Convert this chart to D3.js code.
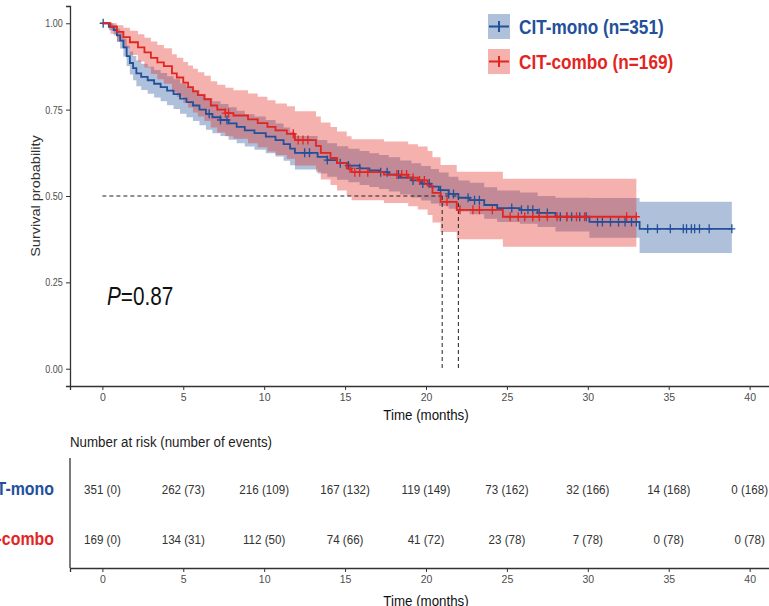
<!DOCTYPE html>
<html>
<head>
<meta charset="utf-8">
<script src="https://cdn.jsdelivr.net/npm/d3@7"></script>
<style>
  body { margin: 0; background: #fff; }
  svg { display: block; font-family: 'Liberation Sans', Arial, sans-serif; }
</style>
</head>
<body>
<div id="chart"></div>
<script>
// ---- data ----
const xTicks = [0, 5, 10, 15, 20, 25, 30, 35, 40]
const yTicks = [0, 0.25, 0.5, 0.75, 1]

const monoTime = [0, 0.4, 0.7, 0.9, 1.1, 1.3, 1.5, 1.7, 1.9, 2.1, 2.4, 2.8, 3.2, 3.6, 4.0, 4.4, 4.8, 5.2, 5.6, 6.0,
  6.4, 6.8, 7.3, 7.8, 8.3, 8.8, 9.4, 10.1, 10.7, 11.2, 11.6, 11.9, 13.3, 13.9, 14.5, 15.2, 15.9, 16.5, 17.1, 17.7,
  18.4, 19.1, 19.7, 20.3, 20.8, 21.4, 22.0, 22.7, 23.6, 24.4, 25.8, 26.9, 28.0, 30.1, 33.2]
const monoSurv = [1, 0.99, 0.98, 0.965, 0.95, 0.93, 0.905, 0.885, 0.87, 0.855, 0.845, 0.835, 0.825, 0.815, 0.805, 0.795, 0.782, 0.772, 0.762, 0.75,
  0.738, 0.728, 0.72, 0.71, 0.70, 0.69, 0.682, 0.672, 0.662, 0.65, 0.637, 0.625, 0.613, 0.604, 0.595, 0.588, 0.58, 0.574, 0.569, 0.562,
  0.553, 0.545, 0.536, 0.527, 0.517, 0.506, 0.495, 0.488, 0.474, 0.465, 0.46, 0.451, 0.44, 0.425, 0.405]
const monoLower = [1, 0.98, 0.965, 0.946, 0.927, 0.904, 0.876, 0.852, 0.835, 0.818, 0.807, 0.796, 0.785, 0.774, 0.763, 0.752, 0.738, 0.728, 0.717, 0.705,
  0.692, 0.682, 0.674, 0.663, 0.653, 0.643, 0.634, 0.624, 0.614, 0.602, 0.589, 0.577, 0.565, 0.556, 0.547, 0.54, 0.532, 0.526, 0.52, 0.513,
  0.504, 0.496, 0.487, 0.478, 0.472, 0.463, 0.455, 0.447, 0.434, 0.425, 0.42, 0.41, 0.397, 0.379, 0.335]
const monoUpper = [1, 1, 0.995, 0.984, 0.973, 0.956, 0.935, 0.918, 0.905, 0.892, 0.883, 0.874, 0.865, 0.856, 0.847, 0.838, 0.826, 0.816, 0.807, 0.795,
  0.784, 0.774, 0.766, 0.757, 0.747, 0.737, 0.73, 0.72, 0.71, 0.698, 0.686, 0.674, 0.662, 0.653, 0.644, 0.637, 0.63, 0.624, 0.619, 0.612,
  0.603, 0.595, 0.587, 0.578, 0.568, 0.556, 0.545, 0.538, 0.525, 0.516, 0.51, 0.5, 0.495, 0.494, 0.483]
const monoEnd = 38.9
const monoCensor = [0.05, 6.6, 7.3, 7.7, 12.5, 12.8, 13.9, 14.7, 15.2, 15.9, 17.2, 17.6, 18.3, 19.2, 19.8, 20.2, 20.9, 21.4, 21.7,
  22.6, 23.0, 23.3, 25.3, 25.9, 26.3, 26.6, 27.0, 27.5, 28.3, 28.7, 29.0, 29.5, 29.9, 30.6, 30.9, 31.4, 31.9, 32.3, 32.7, 33.0,
  33.7, 34.3, 35.1, 35.9, 36.1, 36.4, 36.6, 36.9, 37.5, 38.9]

const comboTime = [0, 0.5, 0.9, 1.3, 1.7, 2.2, 2.6, 3.0, 3.4, 3.8, 4.3, 4.6, 5.0, 5.3, 5.6, 5.9, 6.3, 6.7, 7.1, 7.6,
  8.1, 9.0, 9.6, 10.2, 10.7, 11.4, 11.9, 13.2, 13.5, 14.1, 14.5, 15.1, 15.4, 17.4, 18.9, 19.5, 20.1, 20.4, 20.9, 21.9, 24.75]
const comboSurv = [1, 0.99, 0.975, 0.96, 0.945, 0.93, 0.916, 0.9, 0.887, 0.876, 0.855, 0.843, 0.828, 0.815, 0.803, 0.792, 0.78, 0.762, 0.75, 0.74,
  0.733, 0.722, 0.711, 0.70, 0.69, 0.68, 0.662, 0.645, 0.625, 0.61, 0.595, 0.58, 0.569, 0.562, 0.553, 0.545, 0.53, 0.509, 0.483, 0.46, 0.44]
const comboLower = [1, 0.97, 0.948, 0.928, 0.908, 0.889, 0.872, 0.853, 0.838, 0.825, 0.8, 0.787, 0.77, 0.756, 0.742, 0.73, 0.717, 0.698, 0.684, 0.673,
  0.666, 0.653, 0.641, 0.629, 0.619, 0.608, 0.588, 0.57, 0.548, 0.532, 0.516, 0.5, 0.488, 0.48, 0.47, 0.461, 0.445, 0.423, 0.396, 0.375, 0.353]
const comboUpper = [1, 1, 0.994, 0.987, 0.978, 0.968, 0.958, 0.947, 0.937, 0.928, 0.91, 0.9, 0.888, 0.878, 0.868, 0.858, 0.848, 0.832, 0.822, 0.813,
  0.806, 0.797, 0.787, 0.777, 0.768, 0.76, 0.745, 0.73, 0.713, 0.70, 0.687, 0.673, 0.664, 0.658, 0.65, 0.643, 0.63, 0.612, 0.59, 0.57, 0.55]
const comboEnd = 33.0
const comboCensor = [7.6, 7.8, 11.8, 12.1, 12.4, 12.7, 15.3, 15.6, 15.9, 16.4, 18.2, 18.5, 18.8, 19.2, 19.6, 19.9, 21.3,
  22.1, 22.9, 23.3, 24.1, 25.2, 25.7, 26.1, 26.6, 27.0, 27.5, 28.1, 28.7, 29.3, 29.8, 32.4, 33.0]

const medians = [21, 22]
const pValue = '0.87'

const riskTimes = [0, 5, 10, 15, 20, 25, 30, 35, 40]
const monoAtRisk = [351, 262, 216, 167, 119, 73, 32, 14, 0]
const monoEvents = [0, 73, 109, 132, 149, 162, 166, 168, 168]
const comboAtRisk = [169, 134, 112, 74, 41, 23, 7, 0, 0]
const comboEvents = [0, 31, 50, 66, 72, 78, 78, 78, 78]

const groups = [
  { name: 'CIT-mono', n: 351, color: '#22509a', fill: 'rgba(34,80,154,0.36)', time: monoTime, surv: monoSurv,
    lower: monoLower, upper: monoUpper, end: monoEnd, censor: monoCensor, atRisk: monoAtRisk, events: monoEvents },
  { name: 'CIT-combo', n: 169, color: '#e2261f', fill: 'rgba(226,38,31,0.36)', time: comboTime, surv: comboSurv,
    lower: comboLower, upper: comboUpper, end: comboEnd, censor: comboCensor, atRisk: comboAtRisk, events: comboEvents },
]

// ---- layout ----
const W = 769, H = 606
const axisCol = '#333', tickTxt = '#4d4d4d'

const svg = d3.select('#chart').append('svg').attr('width', W).attr('height', H)

const x = d3.scaleLinear().domain([-2, 42]).range([70, 782])
const y = d3.scaleLinear().domain([-0.05, 1.05]).range([386, 6])

// horizontally squeezed text helper
function txt(g, px, py, s, o = {}) {
  const t = g.append('text')
    .attr('transform', `translate(${px},${py}) scale(${o.sx || 0.86},1)${o.rot ? ` rotate(${o.rot})` : ''}`)
    .attr('font-size', o.size || 11)
    .attr('fill', o.fill || tickTxt)
    .attr('text-anchor', o.anchor || 'start')
    .attr('font-weight', o.weight || 'normal')
    .text(s)
  return t
}

function stepData(gr) {
  const pts = gr.time.map((t, i) => ({ t, s: gr.surv[i], lo: gr.lower[i], hi: gr.upper[i] }))
  const last = pts[pts.length - 1]
  pts.push({ t: gr.end, s: last.s, lo: last.lo, hi: last.hi })
  return pts
}

function survAt(gr, t) {
  const i = d3.bisectRight(gr.time, t) - 1
  return gr.surv[Math.max(0, i)]
}

const plot = svg.append('g')

// confidence bands
const band = d3.area().curve(d3.curveStepAfter)
  .x((d) => x(d.t)).y0((d) => y(d.lo)).y1((d) => y(d.hi))
groups.forEach((gr) => {
  plot.append('path').datum(stepData(gr)).attr('d', band).attr('fill', gr.fill)
})

// median lines
plot.append('line')
  .attr('x1', x(0)).attr('x2', x(d3.max(medians)))
  .attr('y1', y(0.5)).attr('y2', y(0.5))
  .attr('stroke', '#222').attr('stroke-width', 1).attr('stroke-dasharray', '4,3')
medians.forEach((m) => {
  plot.append('line')
    .attr('x1', x(m)).attr('x2', x(m))
    .attr('y1', y(0.5)).attr('y2', y(0))
    .attr('stroke', '#222').attr('stroke-width', 1).attr('stroke-dasharray', '4,3')
})

// survival curves + censor marks
const line = d3.line().curve(d3.curveStepAfter).x((d) => x(d.t)).y((d) => y(d.s))
groups.forEach((gr) => {
  plot.append('path').datum(stepData(gr)).attr('d', line)
    .attr('fill', 'none').attr('stroke', gr.color).attr('stroke-width', 1.8)
  plot.selectAll(null).data(gr.censor).join('path')
    .attr('transform', (t) => `translate(${x(t)},${y(survAt(gr, t))})`)
    .attr('d', 'M-3.5,0H3.5M0,-4.5V4.5')
    .attr('stroke', gr.color).attr('stroke-width', 1.3).attr('fill', 'none')
})

// axes of the survival panel
const yAxis = svg.append('g').attr('transform', `translate(${x(-2)},0)`)
  .call(d3.axisLeft(y).tickValues(yTicks).tickFormat(d3.format('.2f')).tickSize(4).tickPadding(3))
const xAxis = svg.append('g').attr('transform', `translate(0,${y(-0.05)})`)
  .call(d3.axisBottom(x).tickValues(xTicks).tickSize(4).tickPadding(4))
;[yAxis, xAxis].forEach((a) => {
  a.select('.domain').attr('stroke', axisCol).attr('stroke-width', 1.3)
  a.selectAll('.tick line').attr('stroke', axisCol)
  a.selectAll('text').attr('font-size', 10.5).attr('fill', tickTxt).attr('font-family', 'Liberation Sans, Arial, sans-serif')
})
yAxis.selectAll('.tick text').attr('transform', 'scale(0.86,1)').attr('x', -8.5)

txt(svg, 426, 420, 'Time (months)', { size: 15.5, anchor: 'middle', fill: '#111' })
txt(svg, 40, 196, 'Survival probability', { size: 14.5, anchor: 'middle', rot: -90, sx: 0.86, fill: '#333' })

// p-value
const pt = svg.append('text')
  .attr('transform', `translate(107,305) scale(0.83,1)`)
  .attr('font-size', 25).attr('fill', '#111')
pt.append('tspan').attr('font-style', 'italic').text('P')
pt.append('tspan').text('=' + pValue)

// legend
groups.forEach((gr, i) => {
  const ly = 14 + i * 35
  const lg = svg.append('g').attr('transform', `translate(488,${ly})`)
  lg.append('rect').attr('width', 22).attr('height', 25).attr('fill', gr.fill)
  lg.append('path').attr('d', 'M1,12.5H21M11,7V18')
    .attr('stroke', gr.color).attr('stroke-width', 2).attr('fill', 'none')
  txt(svg, 519, ly + 20, `${gr.name} (n=${gr.n})`, { size: 20, weight: 'bold', fill: gr.color, sx: 0.86 })
})

// ---- risk table ----
txt(svg, 70, 447, 'Number at risk (number of events)', { size: 15.5, fill: '#222', sx: 0.86 })

const ry = d3.scalePoint().domain(groups.map((g) => g.name)).range([489, 539])
const rBottom = 568

const tbl = svg.append('g')
groups.forEach((gr) => {
  tbl.selectAll(null).data(riskTimes).join('text')
    .attr('transform', (t) => `translate(${x(t)},${ry(gr.name) + 5}) scale(0.86,1)`)
    .attr('text-anchor', 'middle').attr('font-size', 13.5).attr('fill', '#333')
    .text((t, i) => `${gr.atRisk[i]} (${gr.events[i]})`)
  txt(svg, 54, ry(gr.name) + 6, gr.name, { size: 18.5, weight: 'bold', fill: gr.color, anchor: 'end', sx: 0.86 })
})

svg.append('line').attr('x1', x(-2)).attr('x2', x(-2)).attr('y1', 458).attr('y2', rBottom)
  .attr('stroke', axisCol).attr('stroke-width', 1.3)
const rAxis = svg.append('g').attr('transform', `translate(0,${rBottom})`)
  .call(d3.axisBottom(x).tickValues(xTicks).tickSize(4).tickPadding(4))
rAxis.select('.domain').attr('stroke', axisCol).attr('stroke-width', 1.3)
rAxis.selectAll('.tick line').attr('stroke', axisCol)
rAxis.selectAll('text').attr('font-size', 10.5).attr('fill', tickTxt).attr('font-family', 'Liberation Sans, Arial, sans-serif')

txt(svg, 426, 606, 'Time (months)', { size: 15.5, anchor: 'middle', fill: '#111' })
</script>
</body>
</html>
